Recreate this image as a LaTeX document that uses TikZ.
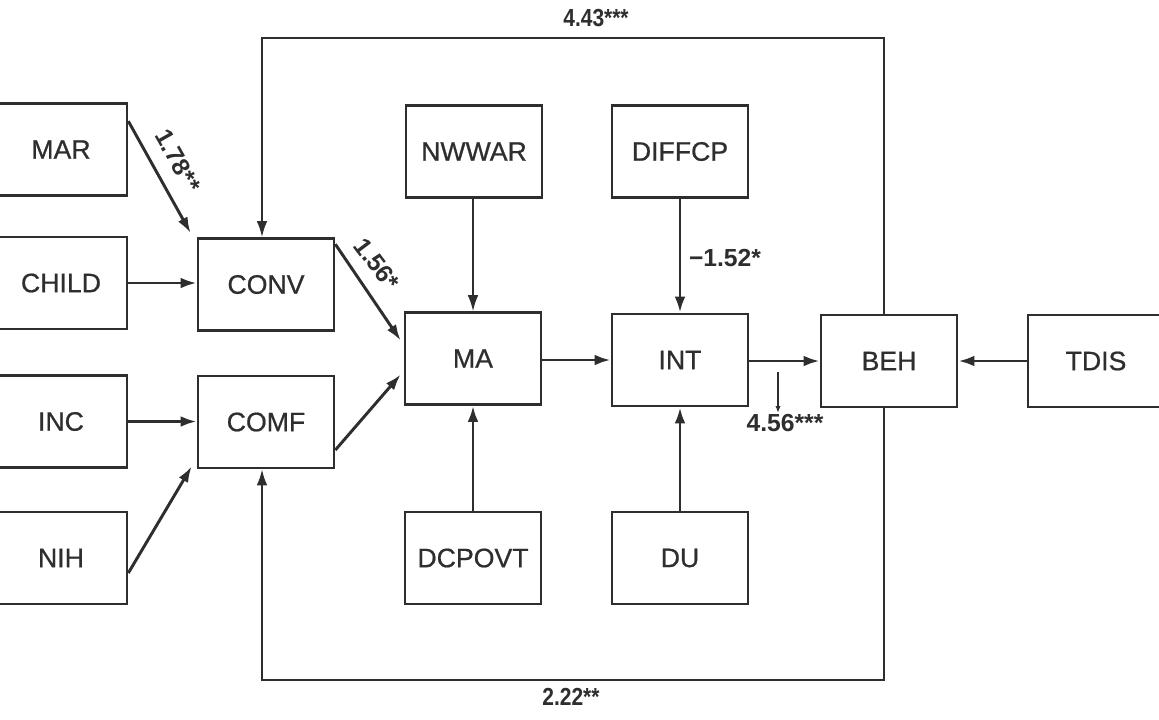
\documentclass[tikz,border=0pt]{standalone}
\usepackage{fontspec}
\setmainfont{Liberation Sans}
\newfontfamily\boxfont[FakeBold=0.7]{Liberation Sans}
\usetikzlibrary{arrows.meta,calc}
\definecolor{ink}{HTML}{2E2E2E}
\begin{document}
\begin{tikzpicture}[x=0.75pt,y=-0.75pt,
  box/.style={draw=ink,line width=2pt,fill=white,minimum width=102pt,minimum height=69pt,inner sep=0pt,font=\boxfont\fontsize{20}{24}\selectfont,text=ink},
  lbox/.style={box,minimum width=99pt},
  lbl/.style={font=\bfseries\fontsize{18.5}{22}\selectfont,text=ink,inner sep=1pt},
  heavy/.style={draw=ink,line width=2.2pt,-{Latex[length=12pt,width=8pt]}},
  light/.style={draw=ink,line width=1.3pt,-{Latex[length=12pt,width=8pt]}},
  loopline/.style={draw=ink,line width=1.6pt,-{Latex[length=12pt,width=8pt]}}]
\path[use as bounding box, fill=white] (0,0) rectangle (1159,719);
\clip (0,0) rectangle (1159,719);

\node[lbox] (MAR) at (61,149.5) {MAR};
\node[lbox] (CHILD) at (61,283) {CHILD};
\node[lbox] (INC) at (61,421.5) {INC};
\node[lbox] (NIH) at (61,558) {NIH};
\node[box] (CONV) at (266,284.5) {CONV};
\node[box] (COMF) at (266,422) {COMF};
\node[box] (NWWAR) at (474,151.5) {NWWAR};
\node[box] (DIFFCP) at (680,151.5) {DIFFCP};
\node[box] (MA) at (473,358.5) {MA};
\node[box] (INT) at (680,360) {INT};
\node[box] (BEH) at (889,361) {BEH};
\node[box] (TDIS) at (1096,361) {TDIS};
\node[box] (DCPOVT) at (473,558) {DCPOVT};
\node[box] (DU) at (680,558) {DU};

% left inputs
\draw[heavy] ($(MAR.north east)+(0,19)$) -- ($(CONV.north west)+(-6,-4)$);
\draw[heavy] (CHILD.east) -- (CHILD.east -| CONV.west);
\draw[heavy] (INC.east) -- (INC.east -| COMF.west);
\draw[heavy] ($(NIH.east)+(0,15)$) -- ($(COMF.south west)+(-5,-3)$);
\draw[heavy] ($(CONV.north east)+(0,7)$) -- ($(MA.west)+(-3,-18)$);
\draw[heavy] ($(COMF.east)+(0,28)$) -- ($(MA.west)+(-3,16)$);

% centre
\draw[light] (NWWAR.south -| MA.north) -- (MA.north);
\draw[heavy] (DIFFCP.south) -- (DIFFCP.south |- INT.north);
\draw[heavy] (DCPOVT.north) -- (MA.south);
\draw[heavy] (DU.north) -- (DU.north |- INT.south);
\draw[heavy] (MA.east |- INT.west) -- (INT.west);
\draw[heavy] (INT.east |- BEH.west) -- (BEH.west);
\draw[heavy] (TDIS.west) -- (BEH.east);

% feedback loops
\coordinate (tl) at (262,38);
\coordinate (tr) at (884,38);
\coordinate (bl) at (262,680);
\coordinate (br) at (884,680);
\draw[loopline] (BEH.north -| tr) -- (tr) -- (tl) -- (tl |- CONV.north);
\draw[loopline] (BEH.south -| br) -- (br) -- (bl) -- (bl |- COMF.south);

% labels
\node[lbl] (l443) at (596,18) {\scalebox{0.85}[1]{4.43***}};
\node[lbl] (l222) at (571,697) {\scalebox{0.85}[1]{2.22**}};
\node[lbl,rotate=-60.5] (l178) at (178,161) {1.78**};
\node[lbl,rotate=-53] (l156) at (377,264) {1.56*};
\node[lbl] (l152) at (725,258) {−1.52*};
\node[lbl] (l456) at (785,423) {4.56***};
\coordinate (p456) at (778,372);
\draw[draw=ink,line width=0.8pt,-{Latex[length=5pt,width=4pt]}] (p456) -- (p456 |- l456.north);
\end{tikzpicture}
\end{document}
